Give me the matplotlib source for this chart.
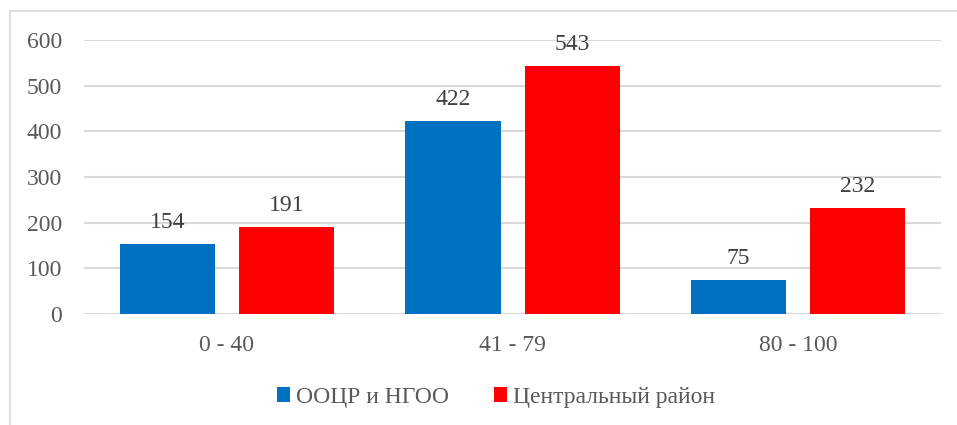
import numpy as np
import matplotlib.pyplot as plt
from matplotlib.lines import Line2D

plt.rcParams['font.family'] = ['Liberation Serif', 'DejaVu Serif']
plt.rcParams['font.size'] = 17

categories = ["0 - 40", "41 - 79", "80 - 100"]
series_names = ["ООЦР и НГОО", "Центральный район"]
oocr = [154, 422, 75]
central = [191, 543, 232]
colors = ["#0070C0", "#FF0000"]
grey = "#595959"

fig = plt.figure(figsize=(9.57, 4.25), dpi=100)
ax = fig.add_axes([0.0878, 0.2612, 0.8955, 0.6447])

x = np.arange(len(categories))
w = 0.333
off = 0.2085
b1 = ax.bar(x - off, oocr, w, color=colors[0], label=series_names[0], zorder=3)
b2 = ax.bar(x + off, central, w, color=colors[1], label=series_names[1], zorder=3)

for bars in (b1, b2):
    ax.bar_label(bars, padding=8, color="#404040", fontsize=17)

ax.set_xlim(-0.5, 2.5)
ax.set_ylim(0, 600)
ax.set_yticks(range(0, 601, 100))
ax.yaxis.grid(True, color="#D9D9D9", linewidth=1.5, zorder=0)
ax.set_xticks(x)
ax.set_xticklabels(categories)
ax.tick_params(length=0, colors=grey, labelsize=17)
ax.tick_params(axis='y', pad=16)
ax.tick_params(axis='x', pad=15)
for s in ax.spines.values():
    s.set_visible(False)

leg = fig.legend(loc="center", bbox_to_anchor=(0.518, 0.065), ncol=2, frameon=False,
                 handlelength=0.55, handleheight=0.55, handletextpad=0.25,
                 columnspacing=1.9, fontsize=17)
for t in leg.get_texts():
    t.set_color(grey)

# outer chart border
fig.add_artist(Line2D([10/957, 10/957], [-0.1, 1 - 11/425], transform=fig.transFigure,
                      color="#D9D9D9", linewidth=1.2))
fig.add_artist(Line2D([10/957, 1.1], [1 - 11/425, 1 - 11/425], transform=fig.transFigure,
                      color="#D9D9D9", linewidth=1.2))

fig.savefig("out.png", dpi=100)
